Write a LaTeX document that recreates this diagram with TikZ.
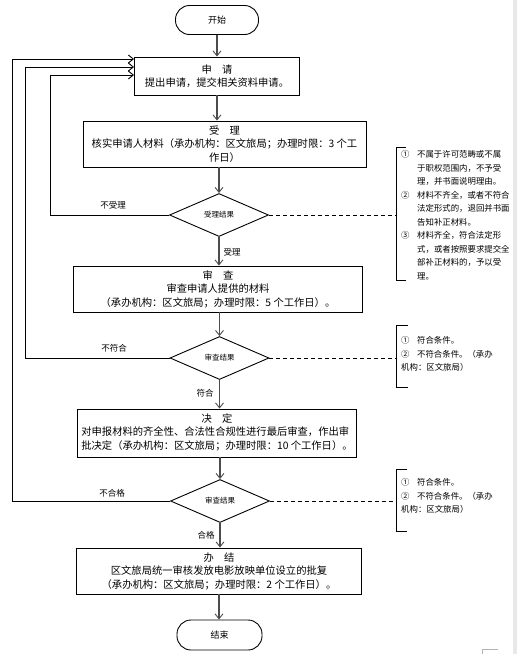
\documentclass[tikz,border=0pt]{standalone}
\usepackage{fontspec}
\setmainfont{Noto Sans CJK SC}
\usetikzlibrary{shapes.geometric,arrows.meta,calc}
\begin{document}
\begin{tikzpicture}[x=1pt,y=-1pt,
  box/.style={draw,line width=0.9pt,inner sep=0pt,font=\fontsize{10.3}{13.5}\selectfont,align=center},
  term/.style={draw,line width=0.9pt,rounded corners=14pt,inner sep=0pt,font=\fontsize{9}{11}\selectfont},
  dec/.style={draw,diamond,line width=0.9pt,inner sep=0pt,font=\fontsize{7.5}{9}\selectfont,minimum width=99pt,minimum height=43pt},
  flow/.style={draw=black!70,line width=1.1pt,-{Straight Barb[length=5pt,width=8pt,line width=0.9pt]}},
  back/.style={draw,line width=0.9pt,-{Straight Barb[length=5pt,width=8pt]}},
  note/.style={draw,line width=0.9pt,dash pattern=on 4pt off 3pt},
  brk/.style={draw,line width=0.9pt},
  lbl/.style={font=\fontsize{8.5}{10}\selectfont,inner sep=0pt},
  ntext/.style={font=\fontsize{8.4}{13.5}\selectfont,inner sep=0pt,anchor=north west}
]
\useasboundingbox (0,0) rectangle (517,654);
\fill[white] (0,0) rectangle (517,654);
\fill[gray!18] (513,0) rectangle (517,654);
\draw[gray!60,line width=0.8pt] (482,654) -- (482,649) -- (498,649);

\node[term,minimum width=83pt,minimum height=29pt] (st) at (217,20) {开始};
\node[box,minimum width=165pt,minimum height=38pt] (sq) at (217,76) {申　请\\提出申请，提交相关资料申请。};
\node[box,minimum width=283pt,minimum height=46pt] (sl) at (224.5,144) {受　理\\核实申请人材料（承办机构：区文旅局；办理时限：3 个工\\作日）};
\node[dec] (d1) at (219,215) {受理结果};
\node[box,minimum width=289pt,minimum height=46pt] (sc) at (218,289) {审　查\\审查申请人提供的材料\\（承办机构：区文旅局；办理时限：5 个工作日）。};
\node[dec] (d2) at (219.5,358) {审查结果};
\node[box,minimum width=279pt,minimum height=48pt] (jd) at (217,433) {\begin{tabular}{@{}l@{}}\multicolumn{1}{@{}c@{}}{决　定}\\对申报材料的齐全性、合法性合规性进行最后审查，作出审\\批决定（承办机构：区文旅局；办理时限：10 个工作日）。\end{tabular}};
\node[dec] (d3) at (220,501) {审查结果};
\node[box,minimum width=285pt,minimum height=46pt] (bj) at (219,571) {办　结\\区文旅局统一审核发放电影放映单位设立的批复\\（承办机构：区文旅局；办理时限：2 个工作日）。};
\node[term,minimum width=85pt,minimum height=30pt] (ed) at (219.5,635) {结束};

\draw[flow] (st.south) -- (st.south |- sq.north);
\draw[flow] (sq.south) -- (sq.south |- sl.north);
\draw[flow] (d1.north |- sl.south) -- (d1.north);
\draw[flow] (d1.south) -- (d1.south |- sc.north);
\draw[flow] (d2.north |- sc.south) -- (d2.north);
\draw[flow] (d2.south) -- (d2.south |- jd.north);
\draw[flow] (d3.north |- jd.south) -- (d3.north);
\draw[flow] (d3.south) -- (d3.south |- bj.north);
\draw[flow] (bj.south) -- (bj.south |- ed.north);

\node[lbl] (y1) at (232,252) {受理};
\node[lbl] (y2) at (205,393) {符合};
\node[lbl] (y3) at (206,535) {合格};
\node[lbl] (n1) at (113,205) {不受理};
\node[lbl] (n2) at (114,348) {不符合};
\node[lbl] (n3) at (112,493) {不合格};

\coordinate (r1) at (50,75);
\coordinate (r2) at (25,67);
\coordinate (r3) at (12,59);
\draw[back] (d1.west) -| (r1) -- (r1 -| sq.west);
\draw[back] (d2.west) -| (r2) -- (r2 -| sq.west);
\draw[back] (d3.west) -| (r3) -- (r3 -| sq.west);

\draw[brk] (406,147) -- (396,147) -- (396,280) -- (406,280);
\draw[brk] (408,325) -- (396,325) -- (396,387) -- (408,387);
\draw[brk] (407,469) -- (396,469) -- (396,531) -- (407,531);
\coordinate (b1) at (396,215);
\coordinate (b2) at (396,358);
\coordinate (b3) at (396,501);
\draw[note] (d1.east) -- (b1);
\draw[note] (d2.east) -- (b2);
\draw[note] (d3.east) -- (b3);

\node[ntext] (t1) at (401,148) {\begin{tabular}{@{}p{16pt}@{}l@{}}①&不属于许可范畴或不属\\&于职权范围内，不予受\\&理，并书面说明理由。\\②&材料不齐全，或者不符合\\&法定形式的，退回并书面\\&告知补正材料。\\③&材料齐全，符合法定形\\&式，或者按照要求提交全\\&部补正材料的，予以受\\&理。\end{tabular}};
\node[ntext] (t2) at (401,334) {\begin{tabular}{@{}p{16pt}@{}l@{}}①&符合条件。\\②&不符合条件。（承办\\\multicolumn{2}{@{}l@{}}{机构：区文旅局）}\end{tabular}};
\node[ntext] (t3) at (401,476) {\begin{tabular}{@{}p{16pt}@{}l@{}}①&符合条件。\\②&不符合条件。（承办\\\multicolumn{2}{@{}l@{}}{机构：区文旅局）}\end{tabular}};
\end{tikzpicture}
\end{document}
